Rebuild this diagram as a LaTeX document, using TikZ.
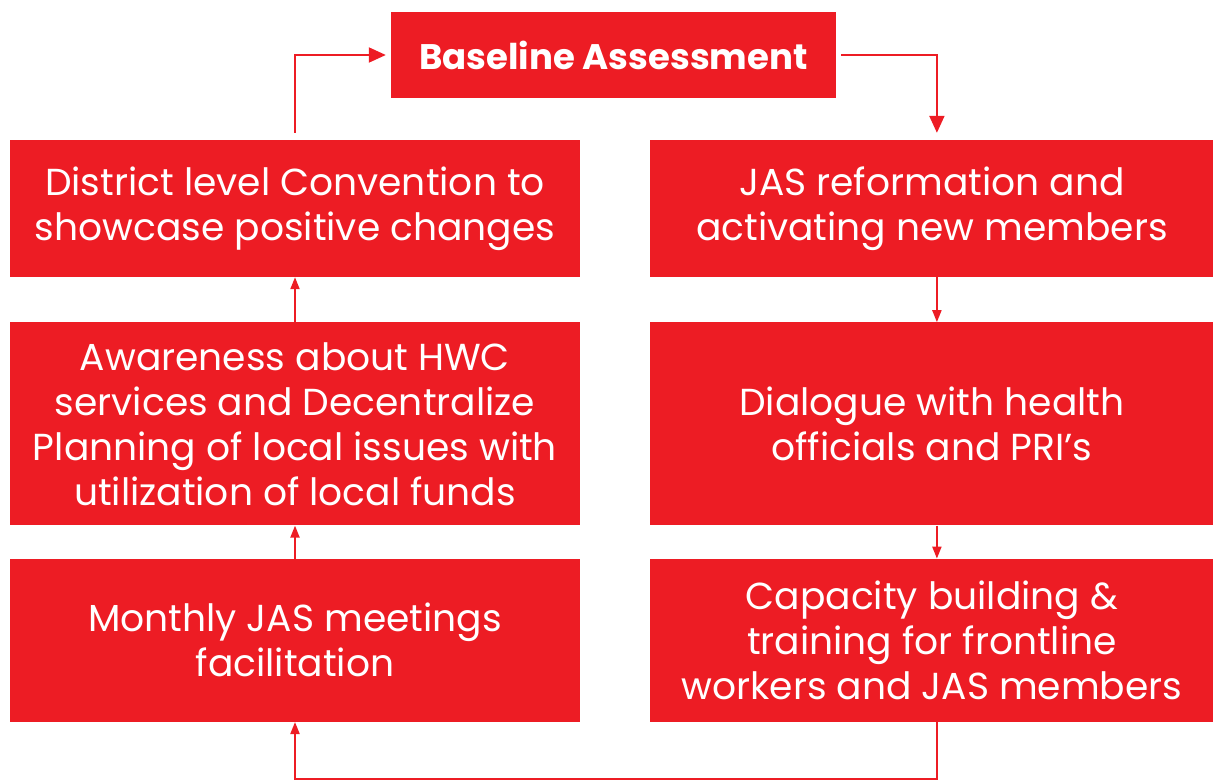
\documentclass[tikz,border=0pt]{standalone}
\usepackage{fontspec}
\setmainfont{Poppins}
\usetikzlibrary{positioning,arrows.meta,calc}
\definecolor{jasred}{HTML}{ED1C24}

\begin{document}
\begin{tikzpicture}[x=1pt, y=-1pt, >={Triangle[length=12pt,width=9pt]},
    stagebox/.style={rectangle, fill=jasred, text=white, align=center, inner sep=0pt, font=\fontsize{37.6}{45}\selectfont},
    leftbox/.style={stagebox, minimum width=570pt},
    rightbox/.style={stagebox, minimum width=563pt},
    link/.style={->, draw=jasred, line width=2pt}]
        \useasboundingbox (0,0) rectangle (1214,781);
        % Nodes
        \node[stagebox, minimum width=445pt, minimum height=86pt, font=\bfseries\fontsize{35.5}{40}\selectfont] (baseline) at (613.5,55) {Baseline Assessment};
        \node[leftbox, minimum height=137pt] (convention) at (295,208.5) {District level Convention to\\showcase positive changes};
        \node[leftbox, minimum height=203pt, below=45pt of convention] (awareness) {Awareness about HWC\\services and Decentralize\\Planning of local issues with\\utilization of local funds};
        \node[leftbox, minimum height=163pt, below=33pt of awareness] (monthly) {Monthly JAS meetings\\facilitation};
        \node[rightbox, minimum height=137pt, right=70pt of convention] (reformation) {JAS reformation and\\activating new members};
        \node[rightbox, minimum height=203pt, below=45pt of reformation] (dialogue) {Dialogue with health\\officials and PRI’s};
        \node[rightbox, minimum height=163pt, below=33pt of dialogue] (capacity) {Capacity building \&\\training for frontline\\workers and JAS members};

        % Arrows
        \draw[link, >={Triangle[length=17pt,width=15pt]}, shorten <=7pt, shorten >=5pt] (convention.north) |- (baseline.west);
        \draw[link, >={Triangle[length=17pt,width=15pt]}, shorten <=5pt, shorten >=7pt] (baseline.east) -| ($(reformation.north)+(5,0)$);
        \draw[link] ($(reformation.south)+(5,0)$) -- ($(dialogue.north)+(5,0)$);
        \draw[link] ($(dialogue.south)+(5,0)$) -- ($(capacity.north)+(5,0)$);
        \draw[link] (monthly) -- (awareness);
        \draw[link] (awareness) -- (convention);
        \draw[link] ($(capacity.south)+(5,0)$) -- ++(0,57) -| (monthly.south);
    \end{tikzpicture}
\end{document}
